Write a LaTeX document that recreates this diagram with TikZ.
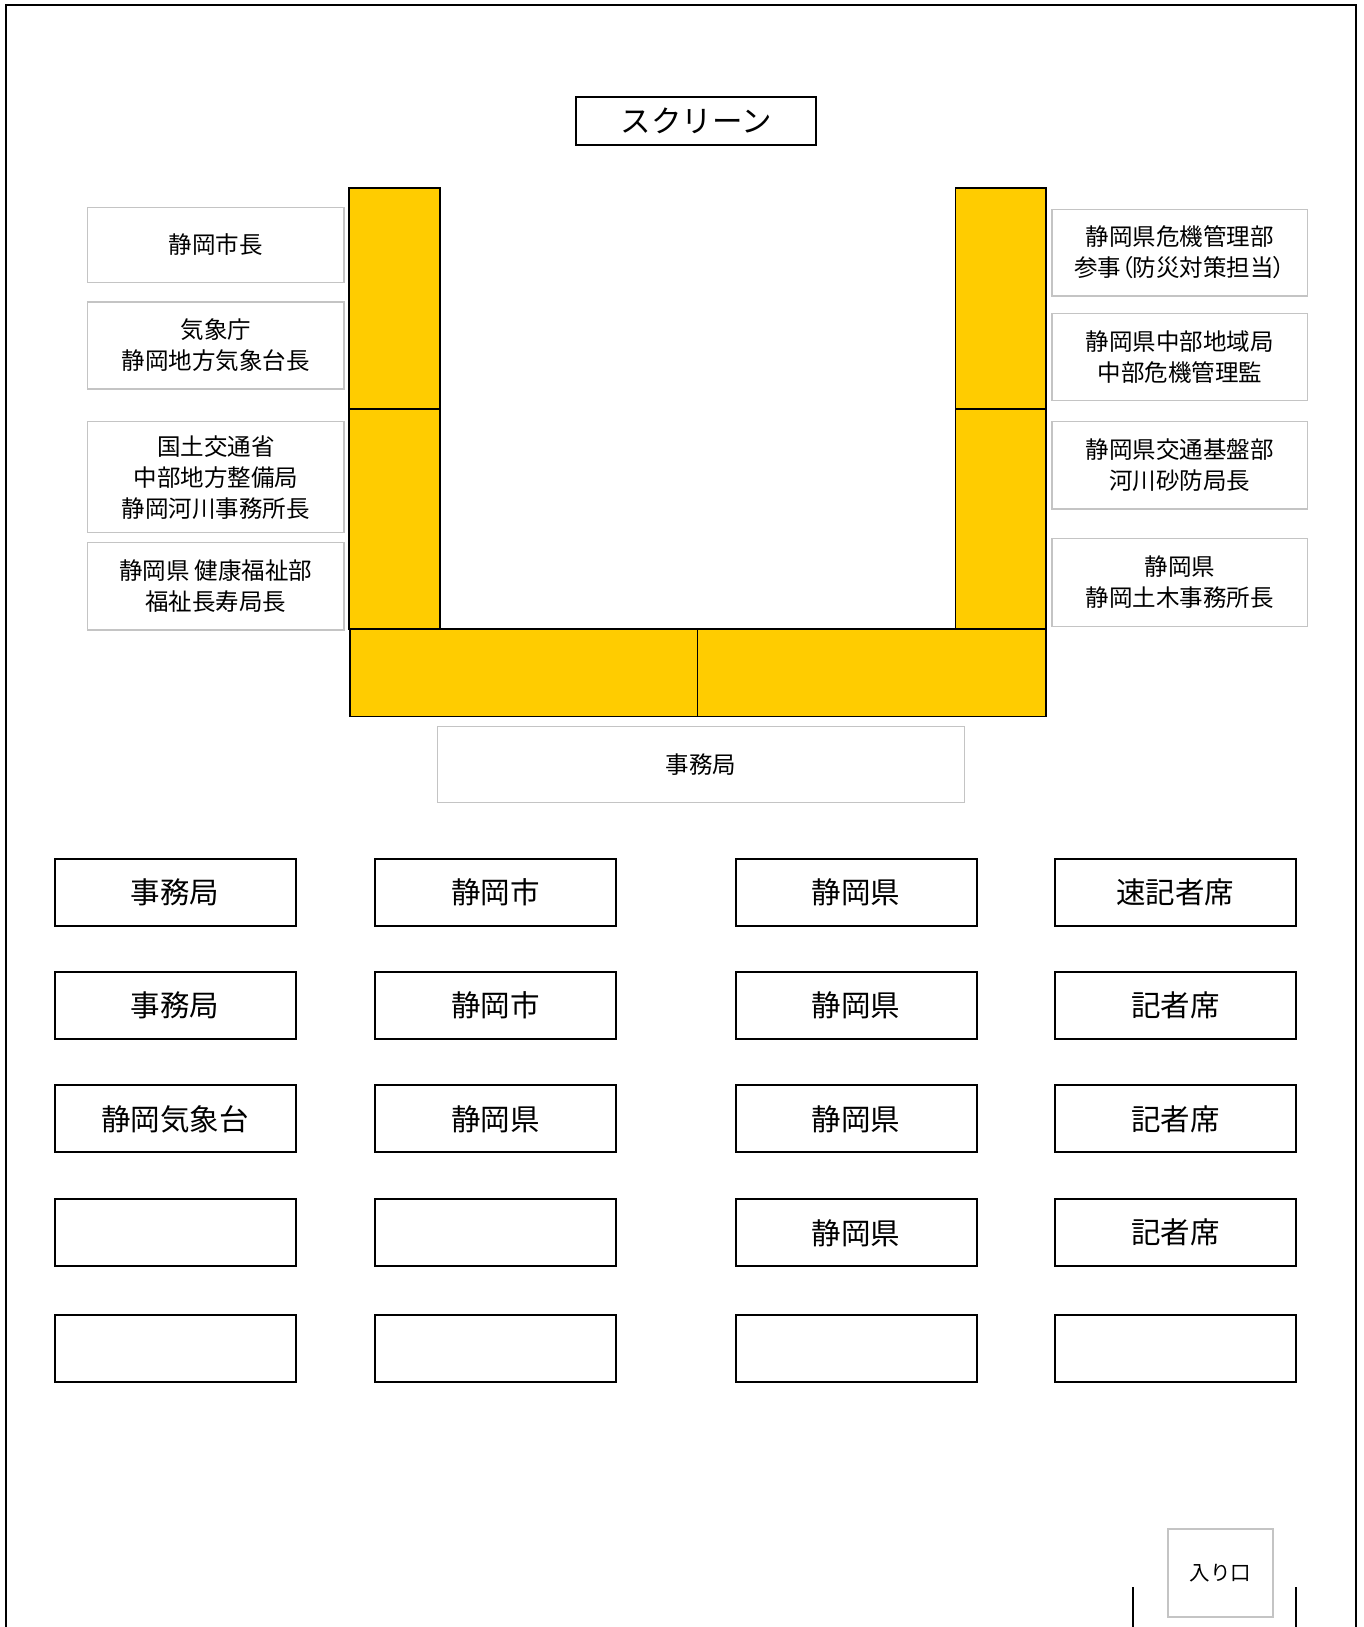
\documentclass[tikz,border=0pt]{standalone}
\usepackage{fontspec}
\setmainfont{Noto Sans CJK JP}
\newfontfamily\jpprop[RawFeature=+palt]{Noto Sans CJK JP}
\definecolor{deskyellow}{HTML}{FFCC00}
\definecolor{boxgray}{HTML}{C4C4C4}
\begin{document}
\begin{tikzpicture}[x=1pt,y=-1pt,
  sz/.style 2 args={minimum width=#1pt, minimum height=#2pt},
  gbox/.style={draw=boxgray, line width=1.5pt, fill=white, inner sep=0pt, align=center, font=\fontsize{23.5}{31}\selectfont},
  seat/.style={draw=black, line width=2pt, fill=white, inner sep=0pt, minimum width=241pt, minimum height=67pt, font=\fontsize{29.5}{35}\selectfont},
  desk/.style={draw=black, line width=1.5pt, fill=deskyellow, inner sep=0pt},
  wall/.style={draw=black, line width=2pt}]
\fill[white] (0,0) rectangle (1364,1627);
\useasboundingbox (0,0) rectangle (1364,1627);
% room outline
\draw[wall] (5.5,1627) -- (5.5,5) -- (1356,5) -- (1356,1627);
% screen
\node[draw=black, line width=2pt, inner sep=0pt, sz={240}{47.5}, font=\fontsize{30.5}{36}\selectfont] (screen) at (696,121.25) {スクリーン};
% desks
\node[desk, sz={91}{221}] (deskLT) at (394.5,298.5) {};
\node[desk, sz={91}{220}] (deskLB) at (394.5,519) {};
\node[desk, sz={90.5}{221}] (deskRT) at (1000.75,298.5) {};
\node[desk, sz={90.5}{220}] (deskRB) at (1000.75,519) {};
\node[desk, sz={347.5}{87.7}] (deskBL) at (523.75,672.85) {};
\node[desk, sz={348.5}{87.7}] (deskBR) at (871.75,672.85) {};
% left labels
\node[gbox, sz={256.5}{75.4}] (L1) at (215.75,245) {静岡市長};
\node[gbox, sz={256.5}{87}] (L2) at (215.75,345.5) {気象庁\\静岡地方気象台長};
\node[gbox, sz={256.5}{111}] (L3) at (215.75,477.2) {国土交通省\\中部地方整備局\\静岡河川事務所長};
\node[gbox, sz={256.5}{87.3}] (L4) at (215.75,586.35) {静岡県 健康福祉部\\福祉長寿局長};
% right labels
\node[gbox, sz={255.5}{86.7}] (R1) at (1179.75,252.65) {静岡県危機管理部\\参事{\jpprop （}防災対策担当{\jpprop ）}};
\node[gbox, sz={255.5}{86.6}] (R2) at (1179.75,357) {静岡県中部地域局\\中部危機管理監};
\node[gbox, sz={255.5}{87.3}] (R3) at (1179.75,465.35) {静岡県交通基盤部\\河川砂防局長};
\node[gbox, sz={255.5}{88}] (R4) at (1179.75,582.3) {静岡県\\静岡土木事務所長};
% secretariat
\node[gbox, sz={527.2}{75.6}] (sec) at (701.1,764.5) {事務局};
% seats
\node[seat] (s11) at (175,892.3) {事務局};
\node[seat] (s12) at (495.5,892.3) {静岡市};
\node[seat] (s13) at (856,892.3) {静岡県};
\node[seat] (s14) at (1175.3,892.3) {速記者席};
\node[seat] (s21) at (175,1005.4) {事務局};
\node[seat] (s22) at (495.5,1005.4) {静岡市};
\node[seat] (s23) at (856,1005.4) {静岡県};
\node[seat] (s24) at (1175.3,1005.4) {記者席};
\node[seat] (s31) at (175,1118.85) {静岡気象台};
\node[seat] (s32) at (495.5,1118.85) {静岡県};
\node[seat] (s33) at (856,1118.85) {静岡県};
\node[seat] (s34) at (1175.3,1118.85) {記者席};
\node[seat] (s41) at (175,1232.8) {};
\node[seat] (s42) at (495.5,1232.8) {};
\node[seat] (s43) at (856,1232.8) {静岡県};
\node[seat] (s44) at (1175.3,1232.8) {記者席};
\node[seat] (s51) at (175,1348) {};
\node[seat] (s52) at (495.5,1348) {};
\node[seat] (s53) at (856,1348) {};
\node[seat] (s54) at (1175.3,1348) {};
% entrance
\node[gbox, sz={105}{88}, font=\fontsize{20.5}{25}\selectfont] (entr) at (1220.5,1573) {入り口};
\draw[wall] (1133,1587) -- (1133,1627);
\draw[wall] (1296,1587) -- (1296,1627);
\end{tikzpicture}
\end{document}
